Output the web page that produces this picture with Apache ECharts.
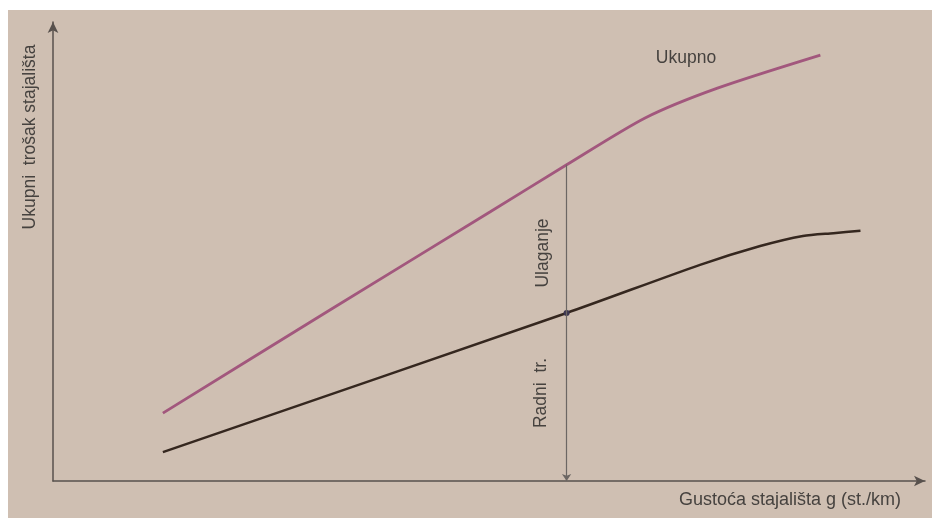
<!DOCTYPE html>
<html>
<head>
<meta charset="utf-8">
<script src="https://cdn.jsdelivr.net/npm/echarts@6/dist/echarts.min.js"></script>
<style>
html,body{margin:0;padding:0;background:#ffffff;}
#chart{position:absolute;left:8px;top:10px;width:924px;height:508px;background:#cfbfb2;}
</style>
</head>
<body>
<div id="chart"></div>
<script>
// Read values (arbitrary units, axes 0..100)
const ukupnoX = [12.6, 31.8, 50.1, 58.9, 67.9, 76.2, 88.0];
const ukupnoY = [14.8, 37.3, 58.6, 68.9, 79.1, 85.6, 92.8];
const radniX  = [12.6, 58.9, 74.2, 81.1, 86.0, 89.5, 92.6];
const radniY  = [6.3, 36.6, 47.1, 51.2, 53.4, 54.0, 54.5];
const cutX = 58.9;          // vertical section position
const cutTop = 68.9;        // value of Ukupno at cut
const labels = {
  yName: 'Ukupni  trošak stajališta',
  xName: 'Gustoća stajališta g (st./km)',
  total: 'Ukupno',
  invest: 'Ulaganje',
  oper: 'Radni  tr.'
};

const chart = echarts.init(document.getElementById('chart'));
const font = '"Liberation Sans", Arial, sans-serif';
const txtColor = '#46423f';
const axisStyle = {show:true, lineStyle:{color:'#58514d', width:1.5}, symbol:['none','arrow'], symbolSize:[8,11]};

const radniData = radniX.map((x,i)=> x===cutX ? {value:[x,radniY[i]], symbol:'circle', symbolSize:6, itemStyle:{color:'#3b3550'}} : [x,radniY[i]]);

chart.setOption({
  animation:false,
  grid:{left:45, right:7, top:12, bottom:37},
  xAxis:{type:'value', min:0, max:100, axisLine:axisStyle, axisTick:{show:false}, axisLabel:{show:false}, splitLine:{show:false}},
  yAxis:{type:'value', min:0, max:100, axisLine:axisStyle, axisTick:{show:false}, axisLabel:{show:false}, splitLine:{show:false}},
  series:[
    {type:'line', data:ukupnoX.map((x,i)=>[x,ukupnoY[i]]), smooth:0.25, symbol:'none',
     lineStyle:{color:'#a2577d', width:2.8}},
    {type:'line', data:radniData, smooth:0.25, symbol:'none', showSymbol:true,
     lineStyle:{color:'#35271f', width:2.5},
     markLine:{silent:true, symbol:['none','arrow'], symbolSize:7,
       lineStyle:{color:'#6c6663', width:1.2, type:'solid'}, label:{show:false},
       data:[[{coord:[cutX,cutTop]},{coord:[cutX,0]}]]}}
  ],
  graphic:[
    {type:'text', x:22, y:127, rotation:Math.PI/2, style:{text:labels.yName, font:'17.5px '+font, fill:txtColor, textAlign:'center', textVerticalAlign:'middle'}},
    {type:'text', x:782, y:490, style:{text:labels.xName, font:'18px '+font, fill:txtColor, textAlign:'center', textVerticalAlign:'middle'}},
    {type:'text', x:678, y:48, style:{text:labels.total, font:'17.5px '+font, fill:txtColor, textAlign:'center', textVerticalAlign:'middle'}},
    {type:'text', x:535, y:243, rotation:Math.PI/2, style:{text:labels.invest, font:'17.5px '+font, fill:txtColor, textAlign:'center', textVerticalAlign:'middle'}},
    {type:'text', x:533, y:383, rotation:Math.PI/2, style:{text:labels.oper, font:'17.5px '+font, fill:txtColor, textAlign:'center', textVerticalAlign:'middle'}}
  ]
});
</script>
</body>
</html>
